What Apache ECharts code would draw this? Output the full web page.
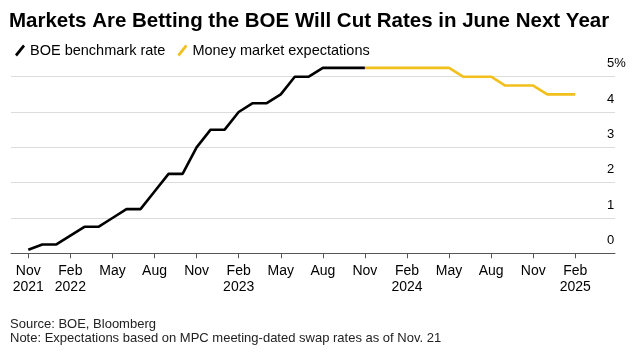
<!DOCTYPE html>
<html>
<head>
<meta charset="utf-8">
<script src="https://cdn.jsdelivr.net/npm/echarts@6/dist/echarts.min.js"></script>
<style>
  html, body { margin: 0; padding: 0; background: #fff; }
  #container { width: 638px; height: 353px; }
</style>
</head>
<body>
<div id="container"></div>
<script>
// monthly BOE bank rate (%), Nov 2021 - Nov 2023
var rateMonths = ['2021-11','2021-12','2022-01','2022-02','2022-03','2022-04','2022-05','2022-06','2022-07','2022-08','2022-09','2022-10','2022-11','2022-12','2023-01','2023-02','2023-03','2023-04','2023-05','2023-06','2023-07','2023-08','2023-09','2023-10','2023-11'];
var rateValues = [0.1,0.25,0.25,0.5,0.75,0.75,1.0,1.25,1.25,1.75,2.25,2.25,3.0,3.5,3.5,4.0,4.25,4.25,4.5,5.0,5.0,5.25,5.25,5.25,5.25];

// money market implied path, Nov 2023 - Feb 2025
var expMonths = ['2023-11','2023-12','2024-01','2024-02','2024-03','2024-04','2024-05','2024-06','2024-07','2024-08','2024-09','2024-10','2024-11','2024-12','2025-01','2025-02'];
var expValues = [5.25,5.25,5.25,5.25,5.25,5.25,5.25,5.0,5.0,5.0,4.75,4.75,4.75,4.5,4.5,4.5];

// x axis ticks (month offset from Nov 2021) and their labels
var tickMonths = [0,3,6,9,12,15,18,21,24,27,30,33,36,39];
var tickLabels = ['Nov\n2021','Feb\n2022','May','Aug','Nov','Feb\n2023','May','Aug','Nov','Feb\n2024','May','Aug','Nov','Feb\n2025'];

var FONT = '"Liberation Sans", Arial, Helvetica, sans-serif';

function monthIndex(s) {
  var p = s.split('-');
  return (parseInt(p[0], 10) - 2021) * 12 + parseInt(p[1], 10) - 11;
}
function pairs(months, values) {
  return months.map(function (m, i) { return [monthIndex(m), values[i]]; });
}

var slash = 'path://M0,10 L8,0 L10,2 L2,12 Z';

var chart = echarts.init(document.getElementById('container'));

var option = {
  animation: false,
  backgroundColor: '#fff',
  textStyle: { fontFamily: FONT },
  title: {
    text: 'Markets Are Betting the BOE Will Cut Rates in June Next Year',
    left: 4, top: 6,
    textStyle: { fontFamily: FONT, fontSize: 20.5, fontWeight: 'bold', color: '#000' }
  },
  legend: {
    left: 10, top: 38,
    itemWidth: 12, itemHeight: 12, itemGap: 12,
    textStyle: { fontFamily: FONT, fontSize: 14.5, color: '#000', padding: [0, 0, 0, -1] },
    data: [
      { name: 'BOE benchmark rate', icon: slash },
      { name: 'Money market expectations', icon: slash }
    ]
  },
  grid: { left: 11, right: 23, top: 76.7, bottom: 99.7, containLabel: false },
  xAxis: {
    type: 'value',
    min: -1.233, max: 41.83,
    splitLine: { show: false },
    axisLine: { show: true, lineStyle: { color: '#555', width: 1 } },
    axisTick: { show: true, length: 5, customValues: tickMonths, lineStyle: { color: '#555' } },
    axisLabel: {
      customValues: tickMonths,
      margin: 10,
      fontFamily: FONT, fontSize: 14, color: '#000', lineHeight: 16,
      formatter: function (v) {
        var i = tickMonths.indexOf(Math.round(v));
        return i >= 0 ? tickLabels[i] : '';
      }
    }
  },
  yAxis: {
    type: 'value',
    position: 'right',
    min: 0, max: 5, interval: 1,
    axisLine: { show: false },
    axisTick: { show: false },
    splitLine: { show: true, lineStyle: { color: '#dcdcdc', width: 1 } },
    axisLabel: {
      margin: -8,
      fontFamily: FONT, fontSize: 13, color: '#000',
      verticalAlign: 'bottom', lineHeight: 26,
      formatter: function (v) { return v === 5 ? '5%' : String(v); }
    }
  },
  series: [
    {
      name: 'BOE benchmark rate',
      type: 'line',
      clip: false,
      showSymbol: false,
      color: '#000',
      lineStyle: { width: 2.6, color: '#000' },
      data: pairs(rateMonths, rateValues)
    },
    {
      name: 'Money market expectations',
      type: 'line',
      clip: false,
      showSymbol: false,
      color: '#f2c01c',
      lineStyle: { width: 2.6, color: '#f2c01c' },
      data: pairs(expMonths, expValues)
    }
  ],
  graphic: [
    { type: 'text', left: 10, top: 318, style: { text: 'Source: BOE, Bloomberg', font: '13px ' + FONT, fill: '#222' } },
    { type: 'text', left: 10, top: 332, style: { text: 'Note: Expectations based on MPC meeting-dated swap rates as of Nov. 21', font: '13px ' + FONT, fill: '#222' } }
  ]
};

chart.setOption(option);
</script>
</body>
</html>
